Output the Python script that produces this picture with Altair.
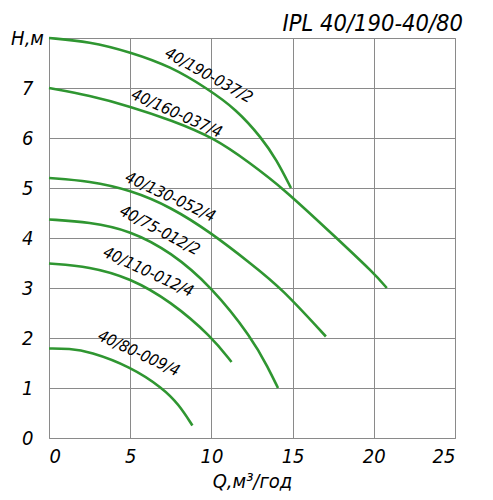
import altair as alt
import pandas as pd

# pump curves: Q (m3/h) and H (m)
names = ["40/190-037/2", "40/160-037/4", "40/130-052/4",
         "40/75-012/2", "40/110-012/4", "40/80-009/4"]

q_190 = [0, 2.5, 5, 7.5, 9.7, 11.55, 13.1, 14, 14.9]
h_190 = [8.0, 7.93, 7.72, 7.43, 7.0, 6.57, 6.0, 5.57, 5.0]

q_160 = [0, 2.5, 5, 7.5, 10.2, 12.37, 14.4, 17.7, 20, 20.8]
h_160 = [7.0, 6.85, 6.63, 6.36, 6.0, 5.5, 5.0, 4.0, 3.3, 3.0]

q_130 = [0, 2.5, 5, 7.5, 10, 12.5, 14.3, 17.05]
h_130 = [5.2, 5.14, 4.96, 4.62, 4.1, 3.47, 3.0, 2.03]

q_75 = [0, 2.5, 5, 7.5, 10, 12.5, 13.5, 14.1]
h_75 = [4.37, 4.32, 4.15, 3.72, 3.03, 2.0, 1.4, 1.0]

q_110 = [0, 2.5, 5, 7.5, 10, 11.24]
h_110 = [3.49, 3.43, 3.2, 2.73, 2.03, 1.52]

q_80 = [0, 1.25, 2.5, 5, 7, 8, 8.83]
h_80 = [1.79, 1.79, 1.73, 1.43, 1.0, 0.67, 0.25]

# where each curve name sits (Q, H) and its slant in degrees
label_q = [9.84, 7.87, 7.47, 6.82, 6.11, 5.53]
label_h = [7.25, 6.49, 4.82, 4.15, 3.32, 1.69]
label_angle = [29, 24, 25, 28, 25, 25]

x_ticks = [0, 5, 10, 15, 20, 25]
y_ticks = [0, 1, 2, 3, 4, 5, 6, 7, 8]

curves = [(q_190, h_190), (q_160, h_160), (q_130, h_130),
          (q_75, h_75), (q_110, h_110), (q_80, h_80)]
rows = []
for name, (qs, hs) in zip(names, curves):
    for i, (q, h) in enumerate(zip(qs, hs)):
        rows.append({"curve": name, "Q": q, "H": h, "order": i})
df = pd.DataFrame(rows)

labels = pd.DataFrame({"text": names, "Q": label_q, "H": label_h,
                       "angle": label_angle})

FONT = "DejaVu Sans Condensed, DejaVu Sans"
GREEN = "#2f9631"

x = alt.X("Q:Q", scale=alt.Scale(domain=[0, 25], nice=False),
          axis=alt.Axis(values=x_ticks, title="Q,м³/год", titleFontSize=20,
                        titleY=49, titleBaseline="alphabetic",
                        labelFontSize=20, labelPadding=8))
y = alt.Y("H:Q", scale=alt.Scale(domain=[0, 8], nice=False),
          axis=alt.Axis(values=y_ticks, title="Н,м", titleAngle=0,
                        titleFontSize=20, titleX=-22, titleY=0,
                        titleAlign="center", titleBaseline="middle",
                        labelFontSize=20, labelPadding=16,
                        labelExpr="datum.value == 8 ? '' : datum.label"))

lines = alt.Chart(df).mark_line(color=GREEN, strokeWidth=2.6,
                                interpolate="basis").encode(
    x=x, y=y, detail="curve:N", order="order:Q")

texts = alt.Chart(labels).mark_text(
    font=FONT, fontSize=16, fontStyle="italic", color="black",
    align="center", baseline="middle").encode(
    x="Q:Q", y="H:Q", text="text:N", angle=alt.Angle("angle:Q", scale=None))

chart = alt.layer(lines, texts).properties(
    width=406, height=400,
    autosize=alt.AutoSizeParams(type="none"),
    padding={"left": 41, "top": 30, "right": 30, "bottom": 54},
    title=alt.TitleParams("IPL 40/190-40/80", anchor="end", frame="group",
                          font=FONT, fontSize=23.5, fontStyle="italic",
                          fontWeight="normal", color="black",
                          baseline="alphabetic", offset=0, dx=8, dy=26),
).configure_axis(
    grid=True, gridColor="#8a8a8a", gridWidth=1, domain=False,
    ticks=False, labelFont=FONT, labelFontStyle="italic", labelColor="black",
    titleFont=FONT, titleFontStyle="italic", titleFontWeight="normal",
    titleColor="black",
).configure_view(stroke="#8a8a8a", strokeWidth=1)

chart.save("out.html", embed_options={"renderer": "svg", "actions": False})
